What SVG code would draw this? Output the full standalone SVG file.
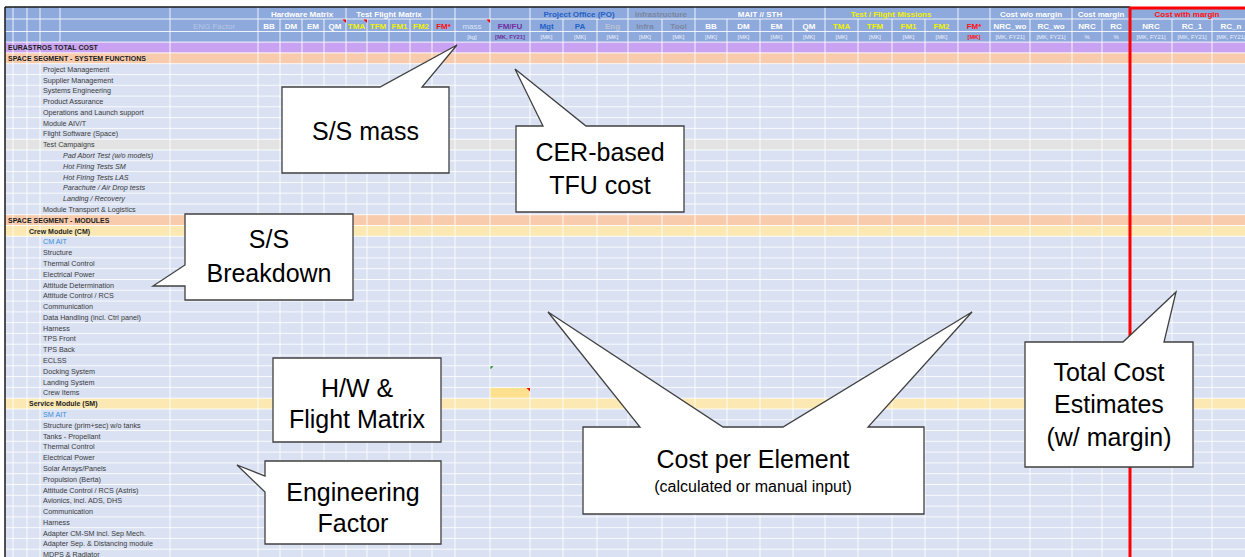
<svg xmlns="http://www.w3.org/2000/svg" width="1245" height="557" viewBox="0 0 1245 557">
<style>
.lbl{font-family:"Liberation Sans",Arial,sans-serif;font-size:7.2px;fill:#3a3a3a}
.sec{font-weight:bold;font-size:7px;fill:#1c1c1c}
.it{font-style:italic}
.bl{fill:#3a8ee0}
.h{font-family:"Liberation Sans",Arial,sans-serif;font-weight:bold;font-size:8px;text-anchor:middle;fill:#ffffff}
.u{font-family:"Liberation Sans",Arial,sans-serif;font-size:5.8px;text-anchor:middle;fill:#eef2fb}
.y{fill:#f2f200}
.r{fill:#ff1010}
.pu{fill:#7030a0}
.pb{fill:#1f62c8}
.gr{fill:#7b879f}
.lg{fill:#b9c3d6}
.call{fill:#ffffff;stroke:#404040;stroke-width:1.3;stroke-linejoin:miter}
.ct{font-family:"Liberation Sans",Arial,sans-serif;font-size:25px;fill:#000;text-anchor:middle}
.cs{font-family:"Liberation Sans",Arial,sans-serif;font-size:16px;fill:#000;text-anchor:middle}
.grid{stroke:#ffffff;stroke-width:1;fill:none;opacity:0.85}
</style>
<rect x="0" y="0" width="1245" height="557" fill="#ffffff"/>
<g id="sheet">
<rect x="5" y="7" width="1240" height="35" fill="#8EA9DB"/>
<rect x="5" y="42" width="1240" height="515" fill="#D9E1F2"/>
<rect x="5" y="42.1" width="1240" height="10.8" fill="#C9A3F2"/>
<rect x="5" y="52.9" width="1240" height="10.8" fill="#F8CBAD"/>
<rect x="5" y="139.2" width="1240" height="10.8" fill="#E3E3E3"/>
<rect x="5" y="214.7" width="1240" height="10.8" fill="#F8CBAD"/>
<rect x="5" y="225.5" width="1240" height="10.8" fill="#FCE8B2"/>
<rect x="5" y="398.2" width="1240" height="10.8" fill="#FCE8B2"/>
<rect x="490" y="387.4" width="40" height="10.8" fill="#FDE08E"/>
<path class="grid" d="M5 19H1245M5 31.5H1245M5 42.1H1245M5 52.9H1245M5 63.7H1245M5 74.5H1245M5 85.3H1245M5 96.1H1245M5 106.8H1245M5 117.6H1245M5 128.4H1245M5 139.2H1245M5 150H1245M5 160.8H1245M5 171.6H1245M5 182.4H1245M5 193.2H1245M5 204H1245M5 214.7H1245M5 225.5H1245M5 236.3H1245M5 247.1H1245M5 257.9H1245M5 268.7H1245M5 279.5H1245M5 290.3H1245M5 301.1H1245M5 311.9H1245M5 322.6H1245M5 333.4H1245M5 344.2H1245M5 355H1245M5 365.8H1245M5 376.6H1245M5 387.4H1245M5 398.2H1245M5 409H1245M5 419.8H1245M5 430.5H1245M5 441.3H1245M5 452.1H1245M5 462.9H1245M5 473.7H1245M5 484.5H1245M5 495.3H1245M5 506.1H1245M5 516.9H1245M5 527.7H1245M5 538.4H1245M5 549.2H1245"/>
<path class="grid" d="M13 7V557M27 7V557M40 7V557M60 7V42M170 7V557M258 7V557M280 19V557M302 19V557M324 19V557M346 7V557M367 19V557M389 19V557M410 19V557M432 7V557M455 7V557M490 7V557M530 7V557M563 19V557M597 19V557M628 7V557M662 19V557M695 7V557M727 19V557M760 19V557M793 19V557M825 7V557M858 19V557M892 19V557M925 19V557M958 7V557M990 7V557M1030 19V557M1072 7V557M1102 19V557M1172 19V557M1212 19V557"/>
<!-- header row 1 -->
<text class="h" x="302" y="16.5">Hardware Matrix</text>
<text class="h" x="389" y="16.5">Test Flight Matrix</text>
<text class="h pb" x="579" y="16.5">Project Office (PO)</text>
<text class="h gr" x="661" y="16.5">Infrastructure</text>
<text class="h" x="760" y="16.5">MAIT // STH</text>
<text class="h y" x="891" y="16.5">Test / Flight Missions</text>
<text class="h" x="1031" y="16.5">Cost w/o margin</text>
<text class="h" x="1101" y="16.5">Cost margin</text>
<text class="h r" x="1187" y="16.5">Cost with margin</text>
<!-- header row 2 -->
<text class="h" x="214" y="28.5" style="font-weight:normal;fill:#b7c6e6">ENG Factor</text>
<text class="h" x="269" y="28.5">BB</text>
<text class="h" x="291" y="28.5">DM</text>
<text class="h" x="313" y="28.5">EM</text>
<text class="h" x="335" y="28.5">QM</text>
<text class="h y" x="356.5" y="28.5">TMA</text>
<text class="h y" x="378" y="28.5">TFM</text>
<text class="h y" x="399.5" y="28.5">FM1</text>
<text class="h y" x="421" y="28.5">FM2</text>
<text class="h r" x="443.5" y="28.5">FM*</text>
<text class="h" x="472" y="28.5" style="font-weight:normal;fill:#dde4f3">mass</text>
<text class="h pu" x="510" y="28.5">FM/FU</text>
<text class="h pb" x="546.5" y="28.5">Mgt</text>
<text class="h pb" x="580" y="28.5">PA</text>
<text class="h lg" x="612.5" y="28.5">Eng</text>
<text class="h gr" x="645" y="28.5">Infra</text>
<text class="h gr" x="678.5" y="28.5">Tool</text>
<text class="h" x="711" y="28.5">BB</text>
<text class="h" x="743.5" y="28.5">DM</text>
<text class="h" x="776.5" y="28.5">EM</text>
<text class="h" x="809" y="28.5">QM</text>
<text class="h y" x="841.5" y="28.5">TMA</text>
<text class="h y" x="875" y="28.5">TFM</text>
<text class="h y" x="908.5" y="28.5">FM1</text>
<text class="h y" x="941.5" y="28.5">FM2</text>
<text class="h r" x="974" y="28.5">FM*</text>
<text class="h" x="1010" y="28.5">NRC_wo</text>
<text class="h" x="1051" y="28.5">RC_wo</text>
<text class="h" x="1087" y="28.5">NRC</text>
<text class="h" x="1116" y="28.5">RC</text>
<text class="h" x="1151" y="28.5">NRC</text>
<text class="h" x="1192" y="28.5">RC_1</text>
<text class="h" x="1231" y="28.5">RC_n</text>
<!-- header row 3 -->
<text class="u" x="472" y="39">[kg]</text>
<text class="u pu" x="510" y="39" style="font-weight:bold">[MK, FY21]</text>
<text class="u" x="546.5" y="39">[MK]</text>
<text class="u" x="580" y="39">[MK]</text>
<text class="u" x="612.5" y="39">[MK]</text>
<text class="u" x="645" y="39">[MK]</text>
<text class="u" x="678.5" y="39">[MK]</text>
<text class="u" x="711" y="39">[MK]</text>
<text class="u" x="743.5" y="39">[MK]</text>
<text class="u" x="776.5" y="39">[MK]</text>
<text class="u" x="809" y="39">[MK]</text>
<text class="u" x="841.5" y="39">[MK]</text>
<text class="u" x="875" y="39">[MK]</text>
<text class="u" x="908.5" y="39">[MK]</text>
<text class="u" x="941.5" y="39">[MK]</text>
<text class="u r" x="974" y="39" style="font-weight:bold">[MK]</text>
<text class="u" x="1010" y="39">[MK, FY21]</text>
<text class="u" x="1051" y="39">[MK, FY21]</text>
<text class="u" x="1087" y="39">%</text>
<text class="u" x="1116" y="39">%</text>
<text class="u" x="1151" y="39">[MK, FY21]</text>
<text class="u" x="1192" y="39">[MK, FY21]</text>
<text class="u" x="1231" y="39">[MK, FY21]</text>
<!-- comment markers -->
<path d="M346 19.5h-3.5l3.5 3.5z M367 19.5h-3.5l3.5 3.5z M490 19.5h-3.5l3.5 3.5z M530 387.9h-3.5l3.5 3.5z" fill="#ff0000"/>
<path d="M490.5 366.3h3l-3 3z" fill="#1a8a1a"/>
<!-- row labels -->
<g class="lbl">
<text class="sec" x="8" y="50.1">EURASTROS TOTAL COST</text>
<text class="sec" x="8" y="60.9">SPACE SEGMENT - SYSTEM FUNCTIONS</text>
<text x="43" y="71.7">Project Management</text>
<text x="43" y="82.5">Supplier Management</text>
<text x="43" y="93.3">Systems Engineering</text>
<text x="43" y="104.1">Product Assurance</text>
<text x="43" y="114.8">Operations and Launch support</text>
<text x="43" y="125.6">Module AIV/T</text>
<text x="43" y="136.4">Flight Software (Space)</text>
<text x="43" y="147.2">Test Campaigns</text>
<text class="it" x="63" y="158">Pad Abort Test (w/o models)</text>
<text class="it" x="63" y="168.8">Hot Firing Tests SM</text>
<text class="it" x="63" y="179.6">Hot Firing Tests LAS</text>
<text class="it" x="63" y="190.4">Parachute / Air Drop tests</text>
<text class="it" x="63" y="201.2">Landing / Recovery</text>
<text x="43" y="212">Module Transport &amp; Logistics</text>
<text class="sec" x="8" y="222.7">SPACE SEGMENT - MODULES</text>
<text class="sec" x="29" y="233.5">Crew Module (CM)</text>
<text class="bl" x="43" y="244.3">CM AIT</text>
<text x="43" y="255.1">Structure</text>
<text x="43" y="265.9">Thermal Control</text>
<text x="43" y="276.7">Electrical Power</text>
<text x="43" y="287.5">Attitude Determination</text>
<text x="43" y="298.3">Attitude Control / RCS</text>
<text x="43" y="309.1">Communication</text>
<text x="43" y="319.9">Data Handling (incl. Ctrl panel)</text>
<text x="43" y="330.6">Harness</text>
<text x="43" y="341.4">TPS Front</text>
<text x="43" y="352.2">TPS Back</text>
<text x="43" y="363">ECLSS</text>
<text x="43" y="373.8">Docking System</text>
<text x="43" y="384.6">Landing System</text>
<text x="43" y="395.4">Crew Items</text>
<text class="sec" x="29" y="406.2">Service Module (SM)</text>
<text class="bl" x="43" y="417">SM AIT</text>
<text x="43" y="427.8">Structure (prim+sec) w/o tanks</text>
<text x="43" y="438.5">Tanks - Propellant</text>
<text x="43" y="449.3">Thermal Control</text>
<text x="43" y="460.1">Electrical Power</text>
<text x="43" y="470.9">Solar Arrays/Panels</text>
<text x="43" y="481.7">Propulsion (Berta)</text>
<text x="43" y="492.5">Attitude Control / RCS (Astris)</text>
<text x="43" y="503.3">Avionics, incl. ADS, DHS</text>
<text x="43" y="514.1">Communication</text>
<text x="43" y="524.9">Harness</text>
<text x="43" y="535.7">Adapter CM-SM incl. Sep Mech.</text>
<text x="43" y="546.4">Adapter Sep. &amp; Distancing module</text>
<text x="43" y="557.2">MDPS &amp; Radiator</text>
</g>
<!-- borders -->
<path d="M5 7H1130M5 7V557" stroke="#1a1a1a" stroke-width="1.5" fill="none"/>
<path d="M1130 8H1245M1130 7V557" stroke="#ff0000" stroke-width="3" fill="none"/>
</g>
<g id="connectors"></g>
<g id="callout-mass">
<path class="call" d="M282 87H380L457 45L422 87H449V173H282Z"/>
<text class="ct" x="365.5" y="140">S/S mass</text>
</g>
<g id="callout-cer">
<path class="call" d="M516 126H543L515 69L586 126H684V212H516Z"/>
<text class="ct" x="600" y="161">CER-based</text>
<text class="ct" x="600" y="194">TFU cost</text>
</g>
<g id="callout-breakdown">
<path class="call" d="M185 214H353V300H185V286L153 286L185 265Z"/>
<text class="ct" x="269" y="248">S/S</text>
<text class="ct" x="269" y="282">Breakdown</text>
</g>
<g id="callout-hw">
<path class="call" d="M273 358H441V442H273Z"/>
<text class="ct" x="357" y="397">H/W &amp;</text>
<text class="ct" x="357" y="428">Flight Matrix</text>
</g>
<g id="callout-eng">
<path class="call" d="M265 461H441V544H265V492L237 465L265 476Z"/>
<text class="ct" x="353" y="501">Engineering</text>
<text class="ct" x="353" y="532">Factor</text>
</g>
<g id="callout-cost">
<path class="call" d="M583 427H640L548 312L723 427H783L972 312L868 427H924V514H583Z"/>
<text class="ct" x="753" y="468">Cost per Element</text>
<text class="cs" x="753" y="492">(calculated or manual input)</text>
</g>
<g id="callout-total">
<path class="call" d="M1025 342H1123L1176 292L1164 342H1193V467H1025Z"/>
<text class="ct" x="1109" y="381">Total Cost</text>
<text class="ct" x="1109" y="413">Estimates</text>
<text class="ct" x="1109" y="446">(w/ margin)</text>
</g>
</svg>
